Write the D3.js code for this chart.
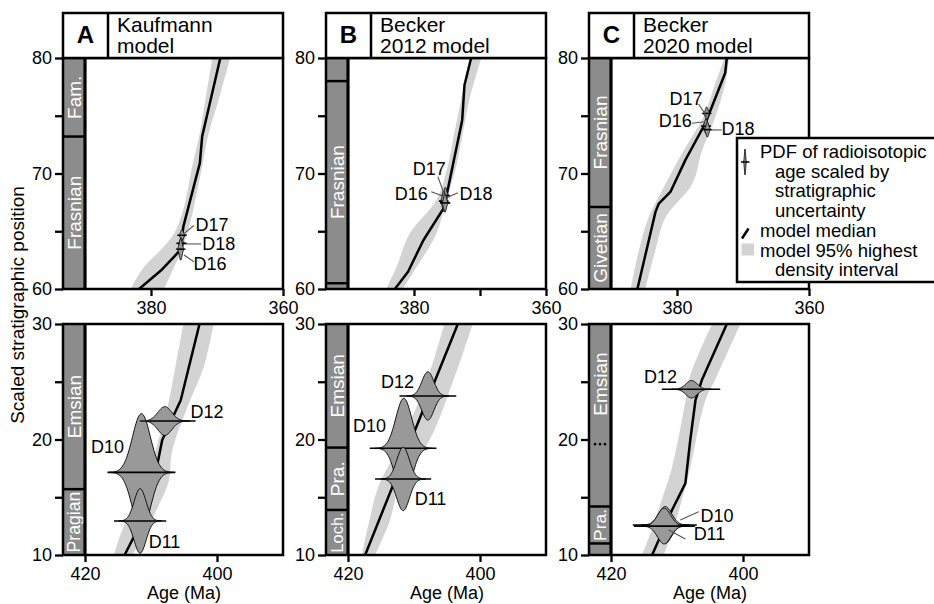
<!DOCTYPE html>
<html><head><meta charset="utf-8">
<script src="https://cdn.jsdelivr.net/npm/d3@7"></script>
<style>
body{margin:0;background:#fff}
svg{display:block}
text{font-family:"Liberation Sans",Arial,Helvetica,sans-serif}
</style>
</head><body>
<svg id="c" width="934" height="604"></svg>
<script>
// ---------- DATA ----------
const panelLetters = ["A","B","C"];
const panelTitles = [["Kaufmann","model"],["Becker","2012 model"],["Becker","2020 model"]];
const topDomain = [390,360];
const botDomain = [420,390];
const topYDomain = [60,80];
const botYDomain = [10,30];
const yTicksTop = [60,65,70,75,80];
const yTicksBot = [10,15,20,25,30];
const xTicksTop = [[380,360],[380,370,360],[380,360]];
const xTicksTopLabeled = [380,360];
const xTicksBot = [420,400];

// model median: [strat position, age Ma]
const medA_top = [[80,369.5],[73.2,372.25],[70.9,372.6],[65.4,375.1],[63.4,375.5],[61.6,378.5],[60,381.8]];
const medB_top = [[80,371.34],[77.66,372.35],[74.6,372.7],[68.0,375.1],[67.0,375.5],[64.2,378.6],[61.5,380.9],[60,382.9]];
const medC_top = [[80,372.45],[78.7,372.7],[74.35,375.7],[71.2,378.7],[68.4,381.0],[67.4,382.75],[66.7,383.25],[60,386.0]];
const medA_bot = [[30,402.65],[23.4,405.5],[19.95,408.3],[17.1,409.3],[13.3,411.05],[10,414.0]];
const medB_bot = [[30,403.36],[20.8,409.85],[10,417.4]];
const medC_bot = [[30,402.45],[25.2,406.2],[23.4,407.2],[20,407.98],[16.2,408.73],[13.9,410.75],[10,413.77]];

// 95% HDI: [strat position, older age, younger age]
const hdiA_top = [[80,370.7,368.0],[76.4,371.75,369.74],[73.5,372.6,371.25],[70.6,373.76,372.25],[67.1,375.0,373.5],[64.8,376.5,374.5],[63.4,378.5,375.3],[61.9,381.05,376.5],[60,383.1,378.0]];
const hdiB_top = [[80,371.6,369.8],[76.4,372.85,371.6],[73.5,373.9,372.6],[70.6,374.9,373.6],[67.7,376.6,375.1],[64.8,380.65,376.6],[61.9,382.65,379.6],[60,384.2,381.7]];
const hdiC_top = [[80,372.8,372.1],[77.8,374.2,372.7],[74.9,376.0,374.2],[72.0,379.0,376.2],[69.1,381.75,377.7],[66.2,384.3,381.75],[63.3,385.8,383.3],[60,387.0,384.8]];
const hdiA_bot = [[30,405.1,400.5],[26.3,406.3,402.0],[22.8,407.5,404.5],[19.0,409.3,406.8],[16.4,410.3,407.3],[14.1,412.8,409.0],[11.8,414.6,411.05],[10,415.6,412.8]];
const hdiB_bot = [[30,405.4,401.1],[25.0,408.1,404.1],[20.0,411.8,407.6],[15.9,415.4,412.2],[12.9,416.8,413.7],[10,417.9,415.9]];
const hdiC_bot = [[30,404.7,400.4],[25.2,408.2,404.2],[23.4,408.7,405.7],[17.6,410.75,407.98],[14.8,412.3,409.25],[11.9,414.0,410.75],[10,415.3,412.0]];

// PDFs: [name, mean age, strat position, peak height, sigma (Ma), line from, line to]
const pdfA_top = [["D17",375.3,64.65,0.5,0.2,375.9,374.7],["D18",375.4,63.95,0.45,0.2,376.1,374.6],["D16",375.5,63.45,0.95,0.2,376.0,375.0]];
const pdfB_top = [["D17",375.25,68.1,0.7,0.2,375.8,374.7],["D16",375.5,67.6,0.9,0.2,376.2,374.8],["D18",375.3,67.45,0.8,0.2,376.0,374.5]];
const pdfC_top = [["D17",375.5,75.2,0.55,0.2,376.1,374.9],["D16",375.6,74.1,0.65,0.2,376.3,374.9],["D18",375.4,73.8,0.65,0.2,376.0,374.8]];
const pdfA_bot = [["D10",411.45,17.15,5.1,1.35,416.6,406.3],["D11",411.65,12.95,2.8,0.9,415.6,407.7],["D12",407.9,21.6,1.25,1.05,410.55,403.25]];
const pdfB_bot = [["D10",411.55,19.24,4.33,1.2,416.7,406.6],["D11",411.65,16.58,2.75,0.95,415.9,407.4],["D12",407.9,23.77,2.1,0.9,412.2,403.6]];
const pdfC_bot = [["D10",411.8,12.6,1.6,1.0,416.7,407.0],["D11",411.95,12.5,1.55,1.0,416.5,407.3],["D12",407.8,24.35,0.76,0.85,412.3,403.45]];

// labels: [text, age, strat position (baseline)]
const labA_top = [["D17",373.26,65.02],["D18",372.25,63.38],["D16",373.56,61.65]];
const labB_top = [["D17",380.2,69.87],["D16",382.9,67.7],["D18",373.1,67.7]];
const labC_top = [["D17",381.15,75.93],["D16",382.76,74.0],["D18",373.26,73.33]];
const labA_bot = [["D12",404.0,21.86],["D10",419.1,18.83],["D11",410.35,10.6]];
const labB_bot = [["D12",415.0,24.46],["D10",419.25,20.65],["D11",409.9,14.33]];
const labC_bot = [["D12",415.0,24.9],["D10",406.43,12.9],["D11",407.48,11.3]];

// leader lines: [age1, pos1, age2, pos2]
const leadA_top = [[373.5,65.5,375.0,64.8],[372.4,63.9,374.77,63.9],[373.5,62.36,375.0,62.94]];
const leadB_top = [[376.38,69.72,375.37,68.13],[377.38,68.42,375.63,68.05],[373.36,68.34,374.87,67.94]];
const leadC_top = [[376.73,76.02,375.48,74.92],[377.74,74.35,375.72,74.48],[373.21,73.77,374.96,73.77]];
const leadC_bot = [[406.73,13.75,409.49,13.03],[408.73,11.39,411.25,12.17]];

// chronostratigraphic stages: [top, base, name]
const stgA_top = [[80,73.2,"Fam."],[73.2,60,"Frasnian"]];
const stgB_top = [[80,78,""],[78,60.5,"Frasnian"],[60.5,60,""]];
const stgC_top = [[80,67.1,"Frasnian"],[67.1,60,"Givetian"]];
const stgA_bot = [[30,15.7,"Emsian"],[15.7,10,"Pragian"]];
const stgB_bot = [[30,19.3,"Emsian"],[19.3,13.9,"Pra."],[13.9,10,"Loch."]];
const stgC_bot = [[30,19.6,"Emsian"],[19.6,14.2,""],[14.2,11.0,"Pra."],[11.0,10,""]];
const dottedC_bot = [19.6];

const legendLines = [["PDF of radioisotopic",0],["age scaled by",1],["stratigraphic",1],["uncertainty",1],["model median",0],["model 95% highest",0],["density interval",1]];

// ---------- LAYOUT ----------
const svg = d3.select("#c");
const panelLefts = [63,326,589];
const panelW = 220, colW = 22;
const rows = [{top:58,bot:289},{top:324,bot:555}];
const headerTop = 13;
const BAND = "#d3d3d3", COL = "#8c8c8c", VIO = "#999999";

const topSets = [
  {med:medA_top,hdi:hdiA_top,pdf:pdfA_top,lab:labA_top,lead:leadA_top,stg:stgA_top,dots:[]},
  {med:medB_top,hdi:hdiB_top,pdf:pdfB_top,lab:labB_top,lead:leadB_top,stg:stgB_top,dots:[]},
  {med:medC_top,hdi:hdiC_top,pdf:pdfC_top,lab:labC_top,lead:leadC_top,stg:stgC_top,dots:[]}
];
const botSets = [
  {med:medA_bot,hdi:hdiA_bot,pdf:pdfA_bot,lab:labA_bot,lead:[],stg:stgA_bot,dots:[]},
  {med:medB_bot,hdi:hdiB_bot,pdf:pdfB_bot,lab:labB_bot,lead:[],stg:stgB_bot,dots:[]},
  {med:medC_bot,hdi:hdiC_bot,pdf:pdfC_bot,lab:labC_bot,lead:leadC_bot,stg:stgC_bot,dots:dottedC_bot}
];

function drawPanel(i, r, set){
  const L = panelLefts[i], R = L + panelW, IL = L + colW;
  const {top, bot} = rows[r];
  const x = d3.scaleLinear().domain(r===0?topDomain:botDomain).range([IL,R]);
  const y = d3.scaleLinear().domain(r===0?topYDomain:botYDomain).range([bot,top]);
  const g = svg.append("g");
  const cid = "clip"+i+"_"+r;
  g.append("clipPath").attr("id",cid).append("rect")
    .attr("x",IL).attr("y",top).attr("width",R-IL).attr("height",bot-top);
  const pg = g.append("g").attr("clip-path","url(#"+cid+")");

  // HDI band
  pg.append("path").datum(set.hdi)
    .attr("d", d3.area().y(d=>y(d[0])).x0(d=>x(d[1])).x1(d=>x(d[2])).curve(d3.curveCatmullRom))
    .attr("fill",BAND);
  // median
  pg.append("path").datum(set.med)
    .attr("d", d3.line().y(d=>y(d[0])).x(d=>x(d[1])))
    .attr("fill","none").attr("stroke","#000").attr("stroke-width",2.5).attr("stroke-linejoin","round");

  // PDFs
  set.pdf.forEach(p=>{
    const [name, mu, v, h, s, l0, l1] = p;
    const pts = d3.range(-3.6, 3.6001, 0.1).map(z=>({a:mu+z*s, g:h*Math.exp(-0.5*z*z)}));
    pg.append("path").datum(pts)
      .attr("d", d3.area().x(d=>x(d.a)).y0(d=>y(v-d.g)).y1(d=>y(v+d.g)).curve(d3.curveBasis))
      .attr("fill",VIO).attr("stroke","#000").attr("stroke-width",0.9);
    pg.append("line").attr("x1",x(l0)).attr("x2",x(l1)).attr("y1",y(v)).attr("y2",y(v))
      .attr("stroke","#000").attr("stroke-width",1.6);
  });

  // leaders
  set.lead.forEach(d=>{
    g.append("line").attr("x1",x(d[0])).attr("y1",y(d[1])).attr("x2",x(d[2])).attr("y2",y(d[3]))
      .attr("stroke","#555").attr("stroke-width",1.1);
  });
  // labels
  set.lab.forEach(d=>{
    g.append("text").attr("x",x(d[1])).attr("y",y(d[2])).text(d[0])
      .attr("font-size",18).attr("fill","#000");
  });

  // stage column
  g.append("rect").attr("x",L).attr("y",top).attr("width",colW).attr("height",bot-top).attr("fill",COL);
  set.stg.forEach(s=>{
    if(s[2]){
      const cy = (y(s[0])+y(s[1]))/2, cx = L+colW/2;
      const segH = y(s[1])-y(s[0]);
      const t = g.append("text").attr("transform",`translate(${cx},${cy}) rotate(-90)`)
        .attr("text-anchor","middle").attr("dy","0.36em").attr("font-size",19).attr("fill","#fff").text(s[2]);
      const len = t.node().getComputedTextLength();
      if(len > segH-4){ t.attr("font-size", 19*(segH-5)/len); }
    }
  });
  set.stg.slice(1).forEach(s=>{
    if(set.dots.includes(s[0])) return;
    g.append("line").attr("x1",L).attr("x2",IL).attr("y1",y(s[0])).attr("y2",y(s[0]))
      .attr("stroke","#000").attr("stroke-width",2.5);
  });
  set.dots.forEach(b=>{
    g.selectAll(null).data([-5,0,5]).enter().append("rect")
      .attr("x",o=>L+colW/2+o-1.2).attr("y",y(b)-1.2).attr("width",2.4).attr("height",2.4)
      .attr("fill","#000");
  });
  g.append("line").attr("x1",IL).attr("x2",IL).attr("y1",top).attr("y2",bot)
    .attr("stroke","#000").attr("stroke-width",3.2);
  // frame
  g.append("rect").attr("x",L).attr("y",top).attr("width",panelW).attr("height",bot-top)
    .attr("fill","none").attr("stroke","#000").attr("stroke-width",2.5);

  // axes
  const xa = d3.axisBottom(x).tickSize(7).tickPadding(5)
    .tickValues(r===0?xTicksTop[i]:xTicksBot)
    .tickFormat(d=> (r===0 ? (xTicksTopLabeled.includes(d)?d:"") : d));
  const gx = g.append("g").attr("transform",`translate(0,${bot})`).call(xa);
  const ya = d3.axisLeft(y).tickSize(8).tickPadding(3)
    .tickValues(r===0?yTicksTop:yTicksBot).tickFormat(d=> d%10===0?d:"");
  const gy = g.append("g").attr("transform",`translate(${L},0)`).call(ya);
  [gx,gy].forEach(a=>{
    a.select(".domain").remove();
    a.selectAll(".tick line").attr("stroke","#000").attr("stroke-width",2.3);
    a.selectAll(".tick text").attr("font-size",18).attr("fill","#000")
      .attr("font-family",'"Liberation Sans",Arial,Helvetica,sans-serif');
  });
  if(r===1){
    g.append("text").attr("x",(IL+R)/2).attr("y",599).attr("text-anchor","middle")
      .attr("font-size",18).text("Age (Ma)");
  }
  if(r===0){
    g.append("rect").attr("x",L).attr("y",headerTop).attr("width",panelW).attr("height",top-headerTop)
      .attr("fill","#fff").attr("stroke","#000").attr("stroke-width",2.5);
    g.append("line").attr("x1",L+45).attr("x2",L+45).attr("y1",headerTop).attr("y2",top)
      .attr("stroke","#000").attr("stroke-width",2.5);
    g.append("text").attr("x",L+22.5).attr("y",43).attr("text-anchor","middle")
      .attr("font-size",24).attr("font-weight","bold").text(panelLetters[i]);
    g.append("text").attr("x",L+54).attr("y",32).attr("font-size",21).text(panelTitles[i][0]);
    g.append("text").attr("x",L+54).attr("y",53).attr("font-size",21).text(panelTitles[i][1]);
  }
}

topSets.forEach((s,i)=>drawPanel(i,0,s));
botSets.forEach((s,i)=>drawPanel(i,1,s));

// y-axis title
svg.append("text").attr("transform","translate(24,305) rotate(-90)").attr("text-anchor","middle")
  .attr("font-size",19).text("Scaled stratigraphic position");

// legend
const lg = svg.append("g");
lg.append("rect").attr("x",737).attr("y",138).attr("width",230).attr("height",144)
  .attr("fill","#fff").attr("stroke","#000").attr("stroke-width",2.5);
const lx = d3.scaleLinear().domain([-1,1]).range([743,747]);
const lpts = d3.range(-3.6,3.6001,0.1).map(z=>({a:z*0.28,g:13*Math.exp(-0.5*z*z)}));
lg.append("path").datum(lpts)
  .attr("d", d3.area().x(d=>lx(d.a)).y0(d=>162-d.g).y1(d=>162+d.g).curve(d3.curveBasis))
  .attr("fill",VIO).attr("stroke","#000").attr("stroke-width",0.9);
lg.append("line").attr("x1",741).attr("x2",749.5).attr("y1",162).attr("y2",162).attr("stroke","#000").attr("stroke-width",1.5);
lg.append("line").attr("x1",742).attr("y1",238.5).attr("x2",748.5).attr("y2",228.5).attr("stroke","#000").attr("stroke-width",2.5);
lg.append("rect").attr("x",741.5).attr("y",243.5).attr("width",12.5).attr("height",12).attr("fill",BAND);
legendLines.forEach((d,k)=>{
  lg.append("text").attr("x",d[1]?775:760).attr("y",158+k*19.7).attr("font-size",18.5).text(d[0]);
});
</script>
</body></html>
